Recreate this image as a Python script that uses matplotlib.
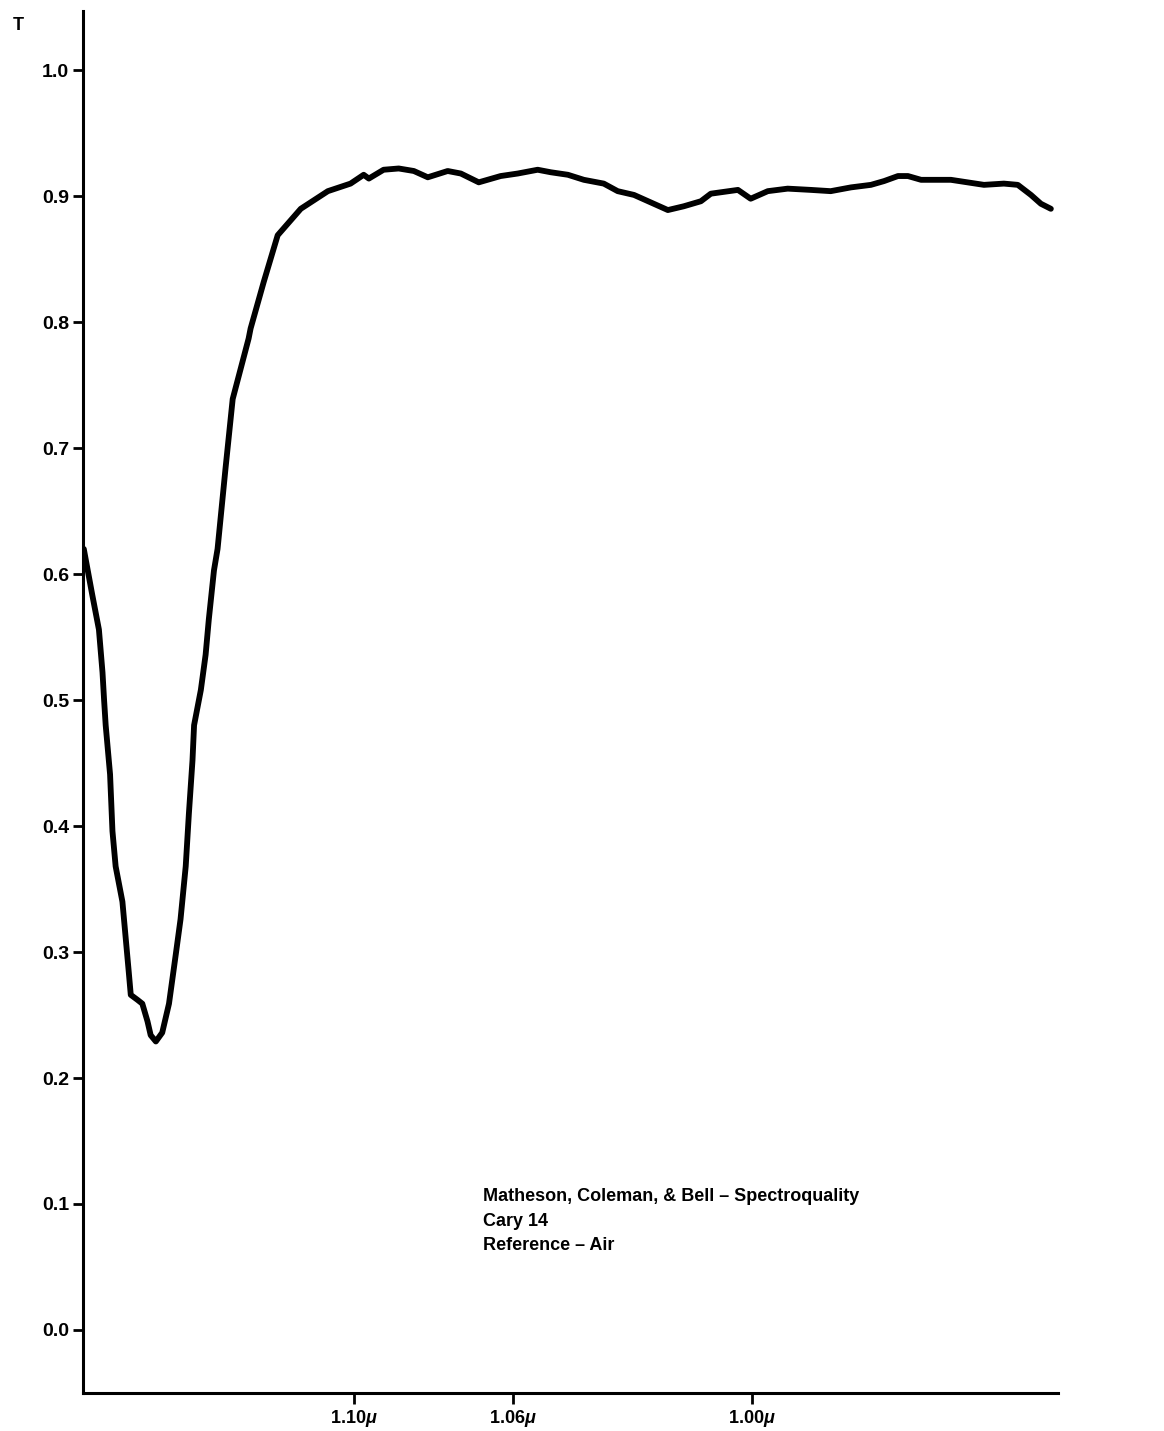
import matplotlib
matplotlib.use("Agg")
import matplotlib.pyplot as plt

plt.rcParams['font.family'] = ['Liberation Sans', 'DejaVu Sans']
plt.rcParams['mathtext.fontset'] = 'custom'
plt.rcParams['mathtext.it'] = 'Liberation Sans:italic:bold'

# transmission spectrum (wavelength in microns, T)
wavelength = [1.1678, 1.1657, 1.1640, 1.1631, 1.1627, 1.1623, 1.1612, 1.1606, 1.1598,
              1.1581, 1.1573, 1.1565, 1.1560, 1.1543, 1.1531, 1.1518, 1.1510, 1.1497,
              1.1481, 1.1464, 1.1447, 1.1435, 1.1422, 1.1414, 1.1405, 1.1401, 1.1384,
              1.1372, 1.1364, 1.1351, 1.1342, 1.1322, 1.1304, 1.1284, 1.1264, 1.1259,
              1.1226, 1.1191, 1.1133, 1.1065, 1.1008, 1.0975, 1.0962, 1.0925, 1.0887,
              1.0849, 1.0814, 1.0764, 1.0731, 1.0686, 1.0631, 1.0588, 1.0538, 1.0505,
              1.0462, 1.0422, 1.0372, 1.0337, 1.0296, 1.0211, 1.0171, 1.0128, 1.0103,
              1.0035, 1.0003, 0.9960, 0.9910, 0.9852, 0.9802, 0.9751, 0.9701, 0.9668,
              0.9633, 0.9608, 0.9575, 0.9500, 0.9417, 0.9367, 0.9332, 0.9299, 0.9274,
              0.9249]
transmission = [0.620, 0.584, 0.556, 0.522, 0.500, 0.480, 0.441, 0.396, 0.368,
                0.340, 0.312, 0.284, 0.266, 0.262, 0.259, 0.245, 0.234, 0.229,
                0.236, 0.259, 0.298, 0.326, 0.368, 0.410, 0.452, 0.480, 0.508,
                0.536, 0.564, 0.603, 0.620, 0.684, 0.739, 0.763, 0.787, 0.795,
                0.832, 0.869, 0.890, 0.904, 0.910, 0.917, 0.914, 0.921, 0.922,
                0.920, 0.915, 0.920, 0.918, 0.911, 0.916, 0.918, 0.921, 0.919,
                0.917, 0.913, 0.910, 0.904, 0.901, 0.889, 0.892, 0.896, 0.902,
                0.905, 0.898, 0.904, 0.906, 0.905, 0.904, 0.907, 0.909, 0.912,
                0.916, 0.916, 0.913, 0.913, 0.909, 0.910, 0.909, 0.901, 0.894,
                0.890]

y_ticks = [0.0, 0.1, 0.2, 0.3, 0.4, 0.5, 0.6, 0.7, 0.8, 0.9, 1.0]
x_ticks = [1.10, 1.06, 1.00]
x_tick_labels = [r'1.10$\mathit{\mu}$', r'1.06$\mathit{\mu}$', r'1.00$\mathit{\mu}$']
note = "Matheson, Coleman, & Bell \u2013 Spectroquality\nCary 14\nReference \u2013 Air"

fig = plt.figure(figsize=(11.64, 14.31), dpi=100)
ax = fig.add_axes([0.0713, 0.0266, 0.838, 0.9657])

ax.plot(wavelength, transmission, color='black', lw=4.2,
        solid_joinstyle='round', solid_capstyle='round')

ax.set_xlim(1.168, 0.923)
ax.set_ylim(-0.05, 1.047)

ax.spines['top'].set_visible(False)
ax.spines['right'].set_visible(False)
ax.spines['left'].set_linewidth(2.2)
ax.spines['bottom'].set_linewidth(2.2)

ax.set_yticks(y_ticks)
ax.set_yticklabels(['%.1f' % v for v in y_ticks], fontsize=14, fontweight='bold')
ax.set_xticks(x_ticks)
ax.set_xticklabels(x_tick_labels, fontsize=13, fontweight='bold')
ax.tick_params(axis='y', direction='out', length=7, width=2, pad=3)
ax.tick_params(axis='x', direction='out', length=8, width=2, pad=3)

ax.text(0.41, 0.1480, note, transform=ax.transAxes, fontsize=13, fontweight='bold',
        va='top', ha='left', linespacing=1.55)

fig.text(0.011, 0.982, 'T', fontsize=13, fontweight='bold', ha='left', va='center')

fig.savefig('out.png', dpi=100)
